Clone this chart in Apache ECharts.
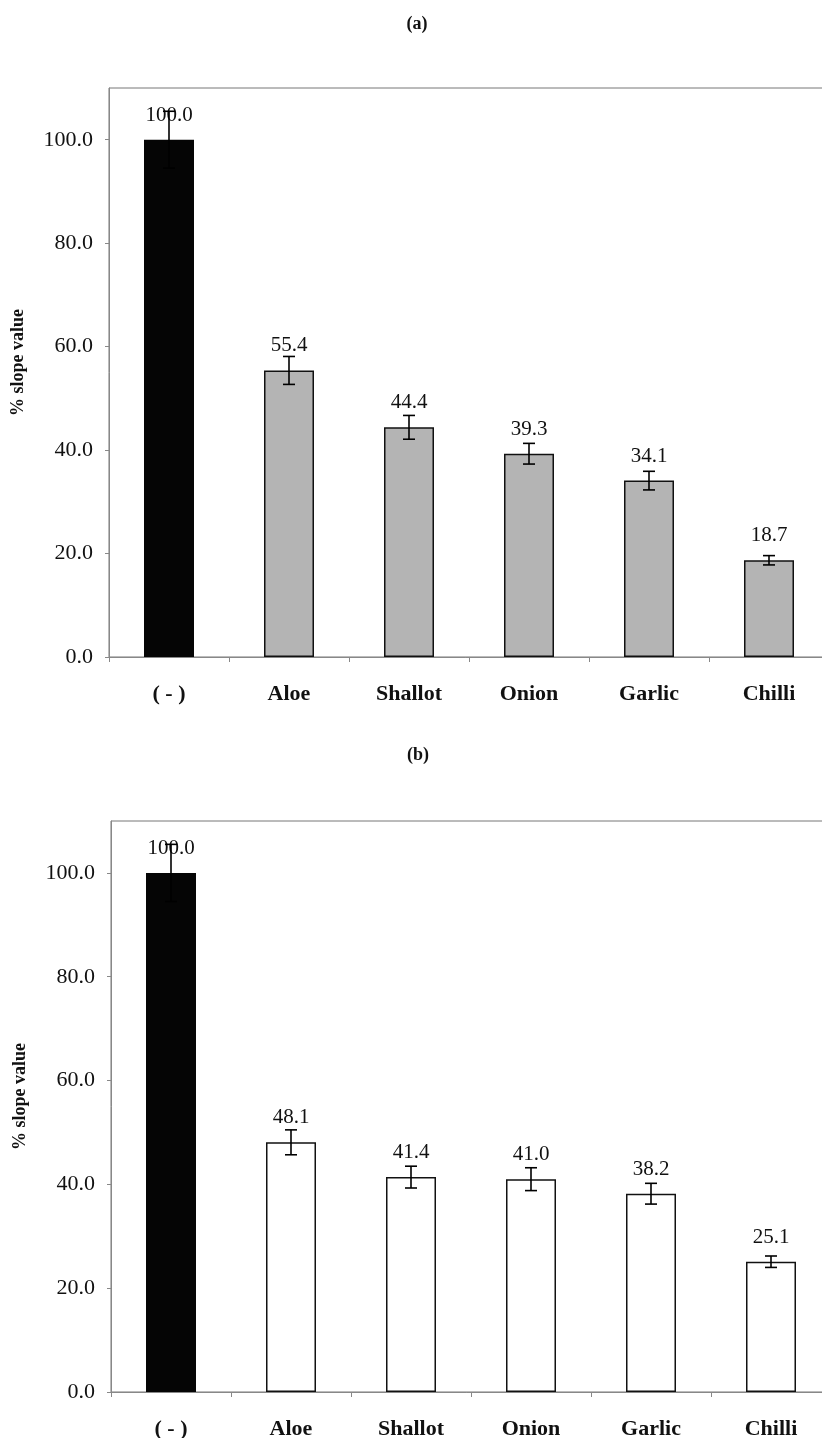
<!DOCTYPE html>
<html lang="en">
<head>
	<meta charset="UTF-8">
	<title>% slope value (a) (b)</title>
	<script src="https://cdn.jsdelivr.net/npm/echarts@6/dist/echarts.min.js"></script>
	<style>
		html, body { margin: 0; padding: 0; background: #fff; }
		#chart { width: 822px; height: 1438px; }
	</style>
</head>
<body>
	<div id="chart"></div>
	<script>
		// data
		var categories = ['( - )', 'Aloe', 'Shallot', 'Onion', 'Garlic', 'Chilli'];
		var valuesA = [100.0, 55.4, 44.4, 39.3, 34.1, 18.7];
		var errorsA = [5.5, 2.7, 2.3, 2.0, 1.8, 0.9];
		var valuesB = [100.0, 48.1, 41.4, 41.0, 38.2, 25.1];
		var errorsB = [5.5, 2.4, 2.1, 2.2, 2.0, 1.1];
		var yTicks = [0, 20, 40, 60, 80, 100];

		var serif = '"Liberation Serif", "DejaVu Serif", serif';

		// bars: first one black, others filled per panel
		function barData(vals, fill, border) {
			return vals.map(function (v, i) {
				if (i === 0) return { value: v, itemStyle: { color: '#050505', borderWidth: 0 } };
				return { value: v, itemStyle: { color: fill, borderColor: border, borderWidth: 1.5 } };
			});
		}

		function errData(vals, errs) {
			return vals.map(function (v, i) { return [i, v, errs[i]]; });
		}

		function renderErr(params, api) {
			var x = api.value(0), y = api.value(1), e = api.value(2);
			var hi = api.coord([x, y + e]);
			var lo = api.coord([x, y - e]);
			var half = 6;
			var st = { stroke: '#000', lineWidth: 1.6 };
			return {
				type: 'group',
				children: [
					{ type: 'line', shape: { x1: hi[0], y1: hi[1], x2: lo[0], y2: lo[1] }, style: st },
					{ type: 'line', shape: { x1: hi[0] - half, y1: hi[1], x2: hi[0] + half, y2: hi[1] }, style: st },
					{ type: 'line', shape: { x1: lo[0] - half, y1: lo[1], x2: lo[0] + half, y2: lo[1] }, style: st }
				]
			};
		}

		function xAxis(gi) {
			return {
				type: 'category',
				gridIndex: gi,
				data: categories,
				axisLine: { lineStyle: { color: '#888', width: 1 } },
				axisTick: { show: true, length: 5, lineStyle: { color: '#888' } },
				axisLabel: { color: '#111', fontFamily: serif, fontWeight: 'bold', fontSize: 22, margin: 26 }
			};
		}

		function yAxis(gi) {
			return {
				type: 'value',
				gridIndex: gi,
				min: 0,
				max: 110,
				interval: 20,
				name: '% slope value',
				nameLocation: 'middle',
				nameGap: 82,
				nameTextStyle: { color: '#111', fontFamily: serif, fontWeight: 'bold', fontSize: 18, padding: [0, 0, 0, 20] },
				splitLine: { show: false },
				axisLine: { show: true, lineStyle: { color: '#888', width: 1 } },
				axisTick: { show: true, length: 4, customValues: yTicks, lineStyle: { color: '#888' } },
				axisLabel: {
					color: '#111', fontFamily: serif, fontSize: 22, margin: 16,
					customValues: yTicks,
					formatter: function (v) { return v.toFixed(1); }
				}
			};
		}

		function valueLabel() {
			return {
				show: true, position: 'top', distance: 14,
				color: '#111', fontFamily: serif, fontSize: 21,
				formatter: function (p) { return p.value.toFixed(1); }
			};
		}

		var chart = echarts.init(document.getElementById('chart'));
		var option = {
			backgroundColor: '#fff',
			animation: false,
			title: [
				{ text: '(a)', left: 412, top: 10, textAlign: 'center',
					textStyle: { fontFamily: serif, fontWeight: 'bold', fontSize: 18, color: '#111' } },
				{ text: '(b)', left: 413, top: 741, textAlign: 'center',
					textStyle: { fontFamily: serif, fontWeight: 'bold', fontSize: 18, color: '#111' } }
			],
			grid: [
				{ left: 109, top: 88, width: 720, height: 569, outerBoundsMode: 'none',
					show: true, borderColor: '#777', borderWidth: 1 },
				{ left: 111, top: 821, width: 720, height: 571, outerBoundsMode: 'none',
					show: true, borderColor: '#777', borderWidth: 1 }
			],
			xAxis: [xAxis(0), xAxis(1)],
			yAxis: [yAxis(0), yAxis(1)],
			series: [
				{
					type: 'bar', xAxisIndex: 0, yAxisIndex: 0, barWidth: 50,
					data: barData(valuesA, '#b4b4b4', '#111'),
					label: valueLabel()
				},
				{
					type: 'custom', xAxisIndex: 0, yAxisIndex: 0, z: 10,
					renderItem: renderErr, data: errData(valuesA, errorsA)
				},
				{
					type: 'bar', xAxisIndex: 1, yAxisIndex: 1, barWidth: 50,
					data: barData(valuesB, '#ffffff', '#111'),
					label: valueLabel()
				},
				{
					type: 'custom', xAxisIndex: 1, yAxisIndex: 1, z: 10,
					renderItem: renderErr, data: errData(valuesB, errorsB)
				}
			]
		};
		chart.setOption(option);
	</script>
</body>
</html>
